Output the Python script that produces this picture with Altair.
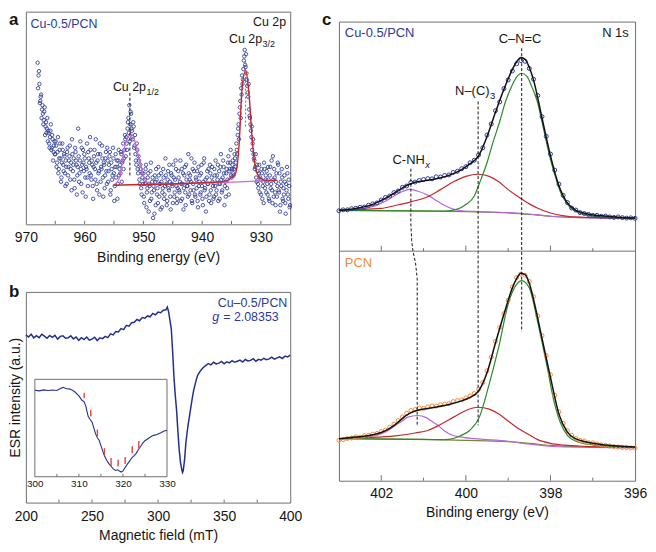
import altair as alt
import pandas as pd

FONT = "Liberation Sans"
NAVY = "#2c3a94"
ESR_BLUE = "#22308c"
ORANGE = "#f08a3e"
RED = "#c3282e"
GREEN = "#2b8a2b"
PURPLE = "#b566e3"
PINK = "#d067d8"
OLIVE = "#7a8630"
FRAME = "#707070"
INK = "#151515"

# ------------------------------------------------------------------ panel a data
a_counts = [76, 70, 66, 58, 61, 54, 52, 49, 55, 46, 43, 50, 44, 38, 41, 47, 36, 40, 34, 39,
            33, 37, 29, 41, 26, 35, 31, 22, 38, 28, 33, 24, 30, 19, 36, 27, 32, 21, 29, 40,
            25, 31, 17, 34, 28, 23, 45, 20, 30, 26, 36, 15, 29, 33, 22, 27, 38, 18, 31, 24,
            35, 21, 28, 12, 32, 26, 40, 19, 30, 24, 14, 33, 27, 37, 22, 29, 17, 31, 25, 36,
            20, 28, 34, 16, 26, 23, 31, 11, 27, 22, 30, 19, 35, 26, 24, 33, 29, 38, 31, 42,
            32, 38, 45, 50, 56, 47, 52, 44, 40, 46, 37, 33, 28, 35, 24, 30, 19, 26, 14, 22,
            24, 10, 19, 28, 15, 22, 6, 18, 25, 12, 20, 3, 16, 23, 9, 21, 17, 27, 13, 19,
            24, 8, 17, 22, 14, 31, 19, 11, 25, 16, 20, 7, 23, 18, 28, 13, 21, 26, 10, 17,
            22, 15, 30, 19, 12, 24, 17, 27, 9, 21, 18, 33, 14, 23, 20, 11, 26, 16, 29, 13,
            21, 25, 8, 18, 23, 15, 28, 12, 20, 31, 17, 6, 22, 19, 26, 14, 24, 10, 27, 18,
            13, 23, 30, 16, 21, 11, 25, 19, 33, 15, 22, 27, 9, 20, 24, 17, 29, 14, 26, 35,
            22, 28, 24, 26, 31, 29, 35, 42, 47, 52, 58, 64, 70, 68, 77, 82, 74, 71, 65, 60,
            54, 50, 44, 46, 38, 33, 30, 27, 22, 28, 19, 24, 15, 21, 26, 12, 20, 29, 17, 23,
            25, 14, 21, 11, 27, 19, 16, 32, 13, 22, 9, 24, 18, 28, 15, 6, 20, 26, 12, 17,
            23, 10, 19, 27, 14, 21, 8]
a_counts_b = [64, 72, 57, 60, 50, 56, 47, 53, 42, 48, 45, 39, 43, 36, 44, 35, 42, 30, 37, 33,
              39, 27, 34, 24, 31, 38, 20, 29, 35, 25, 32, 18, 27, 34, 23, 30, 37, 26, 16, 33,
              28, 21, 36, 30, 14, 27, 32, 24, 39, 19, 28, 35, 25, 31, 13, 26, 22, 34, 29, 41,
              23, 30, 18, 27, 35, 21, 29, 16, 33, 25, 38, 20, 26, 31, 13, 28, 23, 34, 19, 30,
              25, 32, 14, 29, 21, 36, 24, 18, 33, 27, 12, 30, 23, 28, 34, 20, 30, 26, 35, 40,
              41, 35, 48, 43, 39, 53, 45, 41, 48, 36, 42, 30, 38, 26, 32, 21, 28, 17, 24, 19,
              13, 21, 26, 8, 17, 24, 19, 11, 29, 15, 22, 18, 5, 20, 26, 14, 10, 23, 19, 7,
              20, 15, 26, 12, 18, 23, 9, 21, 17, 28, 13, 24, 19, 10, 22, 15, 30, 18, 12, 25,
              16, 20, 11, 26, 19, 7, 23, 15, 28, 18, 13, 24, 21, 16, 31, 10, 19, 25, 14, 22,
              17, 11, 27, 20, 14, 24, 18, 9, 29, 16, 21, 13, 25, 19, 11, 28, 16, 22, 20, 12,
              26, 18, 14, 23, 28, 19, 12, 27, 21, 16, 30, 24, 18, 13, 26, 21, 32, 25, 29, 23,
              26, 30, 23, 33, 27, 38, 33, 45, 40, 55, 50, 61, 66, 73, 79, 75, 80, 68, 62, 66,
              51, 47, 41, 35, 40, 31, 26, 33, 20, 25, 17, 28, 22, 14, 24, 18, 10, 26, 21, 15,
              19, 27, 12, 23, 17, 30, 10, 21, 26, 15, 20, 13, 29, 16, 24, 9, 18, 22, 11, 14,
              20, 5, 16, 24, 12, 18, 9]
a_step = 0.15
a_energy = [round(968.0 - a_step * i, 3) for i in range(len(a_counts))]
a_energy_b = [round(967.925 - a_step * i, 3) for i in range(len(a_counts_b))]

a_p12_e = [955.1, 954.6, 954.0, 953.2, 952.6, 952.05, 951.6, 951.2, 950.4, 949.55, 948.5, 927.3]
a_p12_v = [18.4, 19.4, 22.4, 36.3, 41.0, 42.4, 40.5, 36.3, 27.0, 20.1, 19.0, 20.7]
a_p32_e = [955.1, 936.5, 935.1, 934.3, 933.7, 933.2, 932.6, 932.05, 931.5, 930.95, 930.1, 929.0, 927.3]
a_p32_v = [18.4, 20.0, 21.7, 24.0, 37.8, 63.9, 72.4, 62.4, 40.9, 27.0, 21.7, 20.6, 20.7]
a_ticks = [965, 960, 955, 950, 945, 940, 935, 930]

# ------------------------------------------------------------------ panel b data
b_field = [200, 202, 204, 206, 208, 210, 212, 214, 216, 218, 220, 222, 224, 226, 228, 230,
           232, 234, 236, 238, 240, 242, 244, 246, 248, 250, 252, 254, 256, 258, 260, 262,
           264, 266, 268, 270, 272, 274, 276, 278, 280, 282, 284, 286, 288, 290, 292, 294,
           296, 298, 300, 302, 304, 306, 307, 308, 309, 310, 311, 312, 313, 314, 315, 316,
           317, 318, 318.5, 319, 320, 321, 322, 323, 324, 325, 326, 327, 328, 329, 330, 332,
           334, 336, 338, 340, 342, 344, 346, 348, 350, 352, 354, 356, 358, 360, 362, 364,
           366, 368, 370, 372, 374, 376, 378, 380, 382, 384, 386, 388, 390, 392, 394, 396,
           398, 400]
b_signal = [79.6, 78.6, 79.9, 78.2, 79.2, 78.3, 79.9, 79.0, 78.0, 79.3, 78.4, 79.4, 77.6, 78.9, 79.2, 78.0,
            78.2, 79.2, 77.7, 78.6, 77.0, 78.3, 77.4, 78.6, 77.1, 77.6, 78.5, 76.9, 78.2, 77.8, 78.9, 78.3,
            80.1, 79.6, 81.2, 81.0, 82.6, 82.1, 84.1, 83.7, 85.4, 85.6, 86.9, 86.3, 87.8, 87.5, 88.6, 88.2,
            89.8, 89.1, 90.4, 90.1, 91.3, 91.5, 92.8, 90.5, 86.5, 82.5, 72.0, 60.0, 51.0, 44.0, 34.0, 25.0,
            19.0, 15.5, 14.3, 15.0, 20.0, 28.0, 33.5, 38.0, 42.0, 46.0, 50.0, 53.5, 56.0, 58.5, 60.5, 62.5,
            64.0, 65.0, 66.0, 65.4, 66.6, 65.8, 66.2, 67.0, 65.9, 66.8, 66.3, 67.4, 66.6, 67.1, 67.6, 66.7,
            67.9, 67.2, 67.5, 68.3, 67.1, 68.0, 67.6, 68.5, 67.8, 68.2, 69.0, 68.1, 68.7, 69.2, 68.4, 69.5,
            69.1, 70.0]
b_ticks = [225, 250, 275, 300, 325, 350, 375]

ins_field = [300, 301, 302, 303, 304, 305, 306, 306.5, 307, 308, 309, 310, 310.7, 311.2, 311.6,
             312.1, 312.6, 313.0, 313.4, 313.8, 314.2, 314.6, 315.0, 315.4, 315.8, 316.3, 316.8,
             317.3, 317.8, 318.3, 318.8, 319.2, 319.6, 320.0, 320.5, 321.0, 321.5, 322.0, 322.5,
             323.0, 323.5, 324.0, 324.5, 325.0, 325.5, 326.0, 326.5, 327.0, 327.7, 328.5, 329.2, 330.0]
ins_signal = [88.9, 88.2, 89.2, 88.5, 89.0, 88.6, 91.0, 91.8, 90.6, 90.0, 87.5, 83.0, 78.5, 77.0, 72.0,
              62.0, 58.5, 56.0, 50.0, 44.0, 40.0, 37.5, 32.0, 26.5, 21.5, 17.0, 13.5,
              11.0, 8.0, 6.5, 7.2, 5.8, 4.8, 6.0, 9.5, 13.0, 16.0, 19.5, 21.5,
              24.0, 28.0, 31.0, 34.5, 37.0, 38.5, 40.0, 41.5, 42.5, 43.4, 45.0, 46.8, 47.8]
hf_field = [311.2, 312.7, 314.2, 315.8, 317.3, 318.9, 320.5, 322.1, 323.6]
hf_low = [80.5, 61.9, 41.7, 22.5, 11.4, 10.4, 13.1, 24.2, 29.3]
hf_high = [86.2, 68.7, 48.5, 29.3, 19.2, 17.5, 20.2, 31.3, 36.7]
ins_ticks = [305, 310, 315, 320, 325]

# ------------------------------------------------------------------ panel c data
c_grid = [round(403.0 - 0.1 * i, 1) for i in range(71)]
c_top_pts = [117.6, 118.0, 118.0, 118.5, 118.7, 119.1, 119.2, 120.0, 120.6, 121.0,
             122.3, 123.4, 124.0, 125.5, 126.2, 127.8, 128.4, 129.9, 130.1, 130.8,
             131.2, 131.6, 131.5, 132.4, 132.3, 133.0, 133.2, 134.3, 134.8, 135.9,
             136.8, 138.5, 139.6, 141.9, 145.0, 150.6, 155.4, 161.2, 165.0, 170.8,
             174.6, 178.5, 181.6, 183.0, 182.7, 179.6, 174.9, 167.8, 158.6, 150.0,
             142.3, 135.3, 129.2, 124.3, 121.2, 118.8, 117.9, 116.8, 116.4, 116.0,
             115.6, 115.6, 115.2, 115.3, 114.9, 114.7, 114.9, 114.6, 114.4, 114.5, 114.3]
c_bot_pts = [17.6, 17.9, 18.4, 18.6, 19.1, 19.0, 19.6, 19.8, 20.3, 20.6,
             21.4, 22.1, 23.3, 24.6, 26.2, 27.8, 29.4, 30.6, 31.0, 31.7,
             31.5, 32.2, 32.6, 32.5, 33.1, 33.4, 33.6, 34.5, 34.9, 35.2,
             36.1, 36.9, 38.0, 39.8, 42.8, 47.9, 53.8, 60.7, 66.8, 72.8,
             78.6, 84.4, 88.5, 90.0, 89.5, 86.8, 80.2, 71.8, 63.2, 54.5,
             46.2, 37.2, 30.0, 25.0, 21.8, 19.9, 18.4, 17.6, 17.3, 16.6,
             16.5, 16.0, 15.6, 15.4, 15.1, 14.9, 14.7, 14.5, 14.4, 14.3, 14.2]

fit_e = [403.0, 402.6, 402.2, 402.0, 401.8, 401.6, 401.4, 401.2, 401.0, 400.7, 400.4, 400.1,
         399.9, 399.7, 399.5, 399.3, 399.1, 398.9, 398.8, 398.7, 398.6, 398.5, 398.4, 398.2,
         398.0, 397.8, 397.6, 397.4, 397.2, 396.8, 396.4, 396.0]
fit_top = [117.8, 118.6, 120.4, 122.1, 124.1, 126.4, 128.6, 130.0, 130.6, 131.5, 133.0, 135.5,
           138.1, 141.5, 149.9, 160.5, 170.5, 179.2, 182.5, 184.4, 183.6, 180.0, 174.5, 158.0,
           141.5, 128.5, 121.0, 117.8, 116.5, 115.4, 114.8, 114.4]
fit_bot = [18.3, 19.0, 20.0, 21.0, 22.8, 25.5, 28.6, 30.4, 31.2, 32.1, 33.2, 34.8,
           36.3, 39.0, 47.0, 60.0, 72.5, 84.0, 88.0, 90.4, 89.8, 86.0, 79.0, 62.0,
           45.0, 29.0, 21.2, 18.2, 17.1, 15.8, 15.1, 14.7]

base_e = [403.0, 401.0, 400.0, 399.0, 398.5, 398.0, 397.5, 396.0]
base_top = [117.8, 117.5, 117.2, 116.7, 116.0, 115.2, 114.7, 114.4]
base_bot = [18.3, 18.0, 17.6, 17.0, 16.3, 15.4, 14.9, 14.5]

grn_top_e = [403.0, 400.5, 400.2, 400.0, 399.8, 399.68, 399.5, 399.37, 399.2, 399.06, 398.9,
             398.8, 398.68, 398.55, 398.45, 398.3, 398.22, 398.0, 397.9, 397.76, 397.6, 397.5,
             397.3, 397.0, 396.5, 396.0]
grn_top_v = [117.8, 117.4, 118.3, 120.3, 124.0, 129.5, 138.5, 146.7, 156.5, 165.3, 172.5,
             175.8, 177.5, 176.0, 172.0, 164.5, 158.0, 140.0, 133.5, 125.5, 120.5, 118.5,
             116.5, 115.3, 114.7, 114.4]
grn_bot_e = [403.0, 400.5, 400.3, 400.14, 399.91, 399.68, 399.45, 399.22, 399.0, 398.8, 398.68,
             398.5, 398.3, 398.1, 397.91, 397.76, 397.6, 397.37, 397.0, 396.5, 396.0]
grn_bot_v = [18.3, 17.9, 18.4, 19.5, 21.9, 27.7, 42.0, 58.5, 77.0, 85.5, 87.2,
             84.0, 69.0, 51.5, 34.0, 25.0, 19.8, 17.0, 15.6, 14.9, 14.6]

red_top_e = [403.0, 402.0, 401.67, 401.3, 400.9, 400.6, 400.29, 400.0, 399.71, 399.45, 399.22,
             399.0, 398.76, 398.5, 398.3, 398.0, 397.68, 397.3, 396.0]
red_top_v = [117.8, 118.6, 119.9, 121.5, 123.7, 126.8, 130.2, 132.6, 133.5, 132.6, 130.2,
             126.8, 123.7, 120.6, 118.7, 116.6, 115.4, 114.8, 114.4]
red_bot_e = [403.0, 402.44, 401.67, 401.2, 400.9, 400.6, 400.29, 400.0, 399.71, 399.45, 399.22,
             399.0, 398.76, 398.5, 398.3, 398.0, 397.68, 397.2, 396.0]
red_bot_v = [18.3, 18.7, 19.5, 20.8, 21.9, 24.5, 27.7, 30.6, 32.0, 31.2, 29.1,
             26.0, 22.7, 20.0, 17.9, 16.3, 15.5, 15.0, 14.6]

pur_top_e = [403.0, 402.5, 402.06, 401.85, 401.67, 401.5, 401.33, 401.15, 400.9, 400.7, 400.52,
             400.3, 400.14, 399.8, 399.0, 398.6, 398.0, 397.5, 396.0]
pur_top_v = [117.8, 118.4, 120.4, 122.3, 124.4, 126.0, 126.9, 126.2, 124.4, 122.1, 120.1,
             118.3, 117.7, 117.3, 116.8, 116.3, 115.2, 114.7, 114.4]
pur_bot_e = [403.0, 402.5, 402.06, 401.85, 401.67, 401.5, 401.37, 401.14, 400.95, 400.83, 400.65,
             400.52, 400.3, 400.14, 399.8, 399.0, 398.6, 397.84, 396.0]
pur_bot_v = [18.3, 18.9, 20.1, 21.8, 24.1, 26.0, 27.7, 28.4, 27.6, 26.2, 24.0,
             21.9, 19.7, 19.1, 18.3, 17.2, 16.2, 14.8, 14.3]

cnc_e = [398.68, 398.68]
cnc_v = [188.4, 64.9]
nc3_e = [399.71, 399.71]
nc3_v = [165.2, 24.1]
cnh_e = [401.30, 401.30, 401.28, 401.25, 401.19, 401.15, 401.15]
cnh_v = [135.9, 112.0, 104.5, 100.0, 95.0, 88.0, 24.1]
c_ticks = [402, 401, 400, 399, 398, 397]

# ------------------------------------------------------------------ sizes (fit inside 640 x 536)
W_AB, H_A, H_B = 266, 214, 212
W_C, H_C = 298, 462
LEFT_X = -17
one = pd.DataFrame({"k": [0]})


def letter(ch, x, y):
    return alt.Chart(one).mark_text(text=ch, align="left", baseline="top", fontWeight="bold",
                                    fontSize=17, color=INK).encode(x=alt.value(x), y=alt.value(y))


# ------------------------------------------------------------------ panel a
A_XS = alt.Scale(domain=[925, 970], reverse=True, nice=False, zero=False)
A_XAX = alt.Axis(values=[970, 960, 950, 940, 930], ticks=False, domain=False, grid=False,
                 labelFlush=False, labelPadding=6, title="Binding energy (eV)", titlePadding=6)
A_YS = alt.Scale(domain=[0, 100], nice=False, zero=False)


def XA(f):
    return alt.X(f"{f}:Q", scale=A_XS, axis=A_XAX)


def YA(f):
    return alt.Y(f"{f}:Q", scale=A_YS, axis=None)


a_df = pd.DataFrame({"e": a_energy + a_energy_b, "v": a_counts + a_counts_b})
a_pts = alt.Chart(a_df).mark_point(
    shape="circle", filled=False, size=12, strokeWidth=0.85, color=NAVY, opacity=1
).encode(x=XA("e"), y=YA("v"))
a_l12 = alt.Chart(pd.DataFrame({"e": a_p12_e, "v": a_p12_v})).mark_line(
    color=PINK, strokeWidth=1.3, interpolate="monotone").encode(x=XA("e"), y=YA("v"))
a_l32 = alt.Chart(pd.DataFrame({"e": a_p32_e, "v": a_p32_v})).mark_line(
    color=RED, strokeWidth=1.4, interpolate="monotone").encode(x=XA("e"), y=YA("v"))
a_d1 = alt.Chart(pd.DataFrame({"e": [952.3, 952.3], "v": [23.0, 61.8]})).mark_line(
    color=INK, strokeWidth=1, strokeDash=[3, 2]).encode(x=XA("e"), y=YA("v"))
a_d2 = alt.Chart(pd.DataFrame({"e": [932.6, 932.6], "v": [46.0, 77.0]})).mark_line(
    color="#777777", strokeWidth=1, strokeDash=[2, 2]).encode(x=XA("e"), y=YA("v"))
a_tk = alt.Chart(pd.DataFrame({"e": a_ticks})).mark_rule(color=FRAME, strokeWidth=1).encode(
    x=XA("e"), y=alt.value(H_A), y2=alt.value(H_A - 3.5))
a_t_left = alt.Chart(pd.DataFrame({"e": [969.2], "v": [92.2], "t": ["Cu-0.5/PCN"]})).mark_text(
    align="left", fontSize=12.5, color=NAVY).encode(x=XA("e"), y=YA("v"), text="t:N")
a_t_right = alt.Chart(pd.DataFrame({"e": [925.7, 929.8, 949.55], "v": [93.4, 85.4, 62.7],
                                    "t": ["Cu 2p", "Cu 2p", "Cu 2p"]})).mark_text(
    align="right", fontSize=12.5, color=INK).encode(x=XA("e"), y=YA("v"), text="t:N")
a_t_sub = alt.Chart(pd.DataFrame({"e": [929.8, 949.55], "v": [85.4, 62.7], "t": ["3/2", "1/2"]})).mark_text(
    align="left", fontSize=9, dx=0.5, dy=4, color=INK).encode(x=XA("e"), y=YA("v"), text="t:N")

panel_a = alt.layer(a_pts, a_l12, a_l32, a_d1, a_d2, a_tk, a_t_left, a_t_right, a_t_sub,
                    letter("a", LEFT_X, 0)).properties(width=W_AB, height=H_A)

# ------------------------------------------------------------------ panel b
B_XS = alt.Scale(domain=[200, 400], nice=False, zero=False)
B_XAX = alt.Axis(values=[200, 250, 300, 350, 400], ticks=False, domain=False, grid=False,
                 labelFlush=False, labelPadding=7, title="Magnetic field (mT)", titlePadding=5)
B_YS = alt.Scale(domain=[0, 100], nice=False, zero=False)
B_YAX = alt.Axis(labels=False, ticks=False, domain=False, grid=False,
                 title="ESR intensity (a.u.)", titlePadding=3)


def XB(f):
    return alt.X(f"{f}:Q", scale=B_XS, axis=B_XAX)


def YB(f):
    return alt.Y(f"{f}:Q", scale=B_YS, axis=B_YAX)


I_XS = alt.Scale(domain=[300, 330], range=[9, 142], nice=False, zero=False)
I_XAX = alt.Axis(orient="bottom", offset=-26, values=[300, 310, 320, 330], ticks=False,
                 domain=False, grid=False, labelFlush=False, labelPadding=2, labelFontSize=10,
                 title="")
I_YS = alt.Scale(domain=[0, 100], range=[186, 88], nice=False, zero=False)


def XI(f):
    return alt.X(f"{f}:Q", scale=I_XS, axis=I_XAX)


def YI(f):
    return alt.Y(f"{f}:Q", scale=I_YS, axis=None)


b_line = alt.Chart(pd.DataFrame({"f": b_field, "v": b_signal})).mark_line(
    color=ESR_BLUE, strokeWidth=1.5).encode(x=XB("f"), y=YB("v"))
b_tk = alt.Chart(pd.DataFrame({"f": b_ticks})).mark_rule(color=FRAME, strokeWidth=1).encode(
    x=XB("f"), y=alt.value(H_B), y2=alt.value(H_B - 3))
b_t1 = alt.Chart(pd.DataFrame({"f": [397.8], "v": [92.8], "t": ["Cu\u20130.5/PCN"]})).mark_text(
    align="right", fontSize=12.5, color=NAVY).encode(x=XB("f"), y=YB("v"), text="t:N")
b_t2 = alt.Chart(pd.DataFrame({"f": [341.0], "v": [86.0], "t": ["g"]})).mark_text(
    align="left", fontSize=12.5, fontStyle="italic", color=NAVY).encode(x=XB("f"), y=YB("v"), text="t:N")
b_t3 = alt.Chart(pd.DataFrame({"f": [341.0], "v": [86.0], "t": ["= 2.08353"]})).mark_text(
    align="left", fontSize=12.5, dx=11, color=NAVY).encode(x=XB("f"), y=YB("v"), text="t:N")
b_main = alt.layer(b_line, b_tk, b_t1, b_t2, b_t3, letter("b", LEFT_X, -8))

i_frame = alt.Chart(pd.DataFrame({"x1": [300], "x2": [330], "y1": [0], "y2": [100]})).mark_rect(
    fill="white", stroke=FRAME, strokeWidth=1).encode(
    x=XI("x1"), x2=alt.X2("x2:Q"), y=YI("y1"), y2=alt.Y2("y2:Q"))
i_line = alt.Chart(pd.DataFrame({"f": ins_field, "v": ins_signal})).mark_line(
    color=ESR_BLUE, strokeWidth=1.1).encode(x=XI("f"), y=YI("v"))
i_hf = alt.Chart(pd.DataFrame({"f": hf_field, "lo": hf_low, "hi": hf_high})).mark_rule(
    color="#d9443c", strokeWidth=1.4).encode(x=XI("f"), y=YI("lo"), y2=alt.Y2("hi:Q"))
i_tk = alt.Chart(pd.DataFrame({"f": ins_ticks, "lo": [0] * 5, "hi": [3] * 5})).mark_rule(
    color=FRAME, strokeWidth=1).encode(x=XI("f"), y=YI("lo"), y2=alt.Y2("hi:Q"))
b_inset = alt.layer(i_frame, i_line, i_hf, i_tk)

panel_b = alt.layer(b_main, b_inset).resolve_scale(x="independent", y="independent").properties(
    width=W_AB, height=H_B)

# ------------------------------------------------------------------ panel c
C_XS = alt.Scale(domain=[396, 403], reverse=True, nice=False, zero=False)
C_XAX = alt.Axis(values=[402, 400, 398, 396], ticks=False, domain=False, grid=False,
                 labelFlush=False, labelPadding=6, title="Binding energy (eV)", titlePadding=5)
C_YS = alt.Scale(domain=[0, 200], nice=False, zero=False)


def XC(f):
    return alt.X(f"{f}:Q", scale=C_XS, axis=C_XAX)


def YC(f):
    return alt.Y(f"{f}:Q", scale=C_YS, axis=None)


def pair_df(e1, v1, e2, v2):
    return pd.DataFrame({"e": list(e1) + list(e2), "v": list(v1) + list(v2),
                         "g": ["top"] * len(e1) + ["bot"] * len(e2)})


def comp(df, color, width):
    return alt.Chart(df).mark_line(color=color, strokeWidth=width, interpolate="monotone").encode(
        x=XC("e"), y=YC("v"), detail="g:N")


c_base = comp(pair_df(base_e, base_top, base_e, base_bot), OLIVE, 1.2)
c_pur = comp(pair_df(pur_top_e, pur_top_v, pur_bot_e, pur_bot_v), PURPLE, 1.2)
c_red = comp(pair_df(red_top_e, red_top_v, red_bot_e, red_bot_v), RED, 1.2)
c_grn = comp(pair_df(grn_top_e, grn_top_v, grn_bot_e, grn_bot_v), GREEN, 1.2)
c_pts_top = alt.Chart(pd.DataFrame({"e": c_grid, "v": c_top_pts})).mark_point(
    shape="circle", filled=False, size=16, strokeWidth=1, color=NAVY, opacity=1).encode(
    x=XC("e"), y=YC("v"))
c_pts_bot = alt.Chart(pd.DataFrame({"e": c_grid, "v": c_bot_pts})).mark_point(
    shape="circle", filled=False, size=16, strokeWidth=1, color=ORANGE, opacity=1).encode(
    x=XC("e"), y=YC("v"))
c_fit = comp(pair_df(fit_e, fit_top, fit_e, fit_bot), "#111111", 1.5)

dash_df = pd.DataFrame({
    "e": cnc_e + nc3_e + cnh_e,
    "v": cnc_v + nc3_v + cnh_v,
    "g": ["cnc"] * len(cnc_e) + ["nc3"] * len(nc3_e) + ["cnh"] * len(cnh_e),
    "i": list(range(len(cnc_e))) + list(range(len(nc3_e))) + list(range(len(cnh_e))),
})
c_dash = alt.Chart(dash_df).mark_line(color=INK, strokeWidth=1, strokeDash=[3, 2]).encode(
    x=XC("e"), y=YC("v"), detail="g:N", order="i:Q")

c_div = alt.Chart(pd.DataFrame({"v": [100]})).mark_rule(color=FRAME, strokeWidth=1).encode(y=YC("v"))
tick_rows = []
for base in (0, 100):
    for t in c_ticks:
        tick_rows.append({"e": t, "lo": base, "hi": base + (2.4 if t % 2 == 0 else 1.3)})
c_tk = alt.Chart(pd.DataFrame(tick_rows)).mark_rule(color=FRAME, strokeWidth=1).encode(
    x=XC("e"), y=YC("lo"), y2=alt.Y2("hi:Q"))

c_t_blue = alt.Chart(pd.DataFrame({"e": [402.86], "v": [193.1], "t": ["Cu-0.5/PCN"]})).mark_text(
    align="left", fontSize=13, color=NAVY).encode(x=XC("e"), y=YC("v"), text="t:N")
c_t_or = alt.Chart(pd.DataFrame({"e": [402.86], "v": [92.9], "t": ["PCN"]})).mark_text(
    align="left", fontSize=13, color=ORANGE).encode(x=XC("e"), y=YC("v"), text="t:N")
c_t_n1s = alt.Chart(pd.DataFrame({"e": [396.15], "v": [193.1], "t": ["N 1s"]})).mark_text(
    align="right", fontSize=13, color=INK).encode(x=XC("e"), y=YC("v"), text="t:N")
c_t_cnc = alt.Chart(pd.DataFrame({"e": [398.72], "v": [190.7], "t": ["C\u2013N=C"]})).mark_text(
    align="center", fontSize=13, color=INK).encode(x=XC("e"), y=YC("v"), text="t:N")
c_t_r = alt.Chart(pd.DataFrame({"e": [399.44, 400.97], "v": [167.9, 137.8],
                                "t": ["N\u2013(C)", "C-NH"]})).mark_text(
    align="right", fontSize=13, color=INK).encode(x=XC("e"), y=YC("v"), text="t:N")
c_t_s3 = alt.Chart(pd.DataFrame({"e": [399.44], "v": [167.9], "t": ["3"]})).mark_text(
    align="left", fontSize=9.5, dx=0.5, dy=4, color=INK).encode(x=XC("e"), y=YC("v"), text="t:N")
c_t_sx = alt.Chart(pd.DataFrame({"e": [400.97], "v": [137.8], "t": ["x"]})).mark_text(
    align="left", fontSize=9.5, fontStyle="italic", dx=0.5, dy=4, color=INK).encode(
    x=XC("e"), y=YC("v"), text="t:N")

panel_c = alt.layer(c_base, c_pur, c_red, c_grn, c_pts_top, c_pts_bot, c_fit, c_dash, c_div, c_tk,
                    c_t_blue, c_t_or, c_t_n1s, c_t_cnc, c_t_r, c_t_s3, c_t_sx).properties(
    width=W_C, height=H_C)

spacer_c = letter("c", -17, 0).properties(width=W_C, height=1,
                                          view=alt.ViewBackground(stroke="transparent"))

left_col = alt.vconcat(panel_a, panel_b, spacing=68, bounds="flush")
right_col = alt.vconcat(spacer_c, panel_c, spacing=9, bounds="flush")

chart = alt.hconcat(left_col, right_col, spacing=18, padding=0).configure(
    font=FONT
).configure_axis(
    labelFont=FONT, titleFont=FONT, labelFontSize=14, titleFontSize=14,
    titleFontWeight="normal", labelColor=INK, titleColor=INK
).configure_view(stroke=FRAME, strokeWidth=1).configure_text(font=FONT, baseline="alphabetic")

chart.save("out.html", embed_options={"renderer": "svg", "actions": False})
